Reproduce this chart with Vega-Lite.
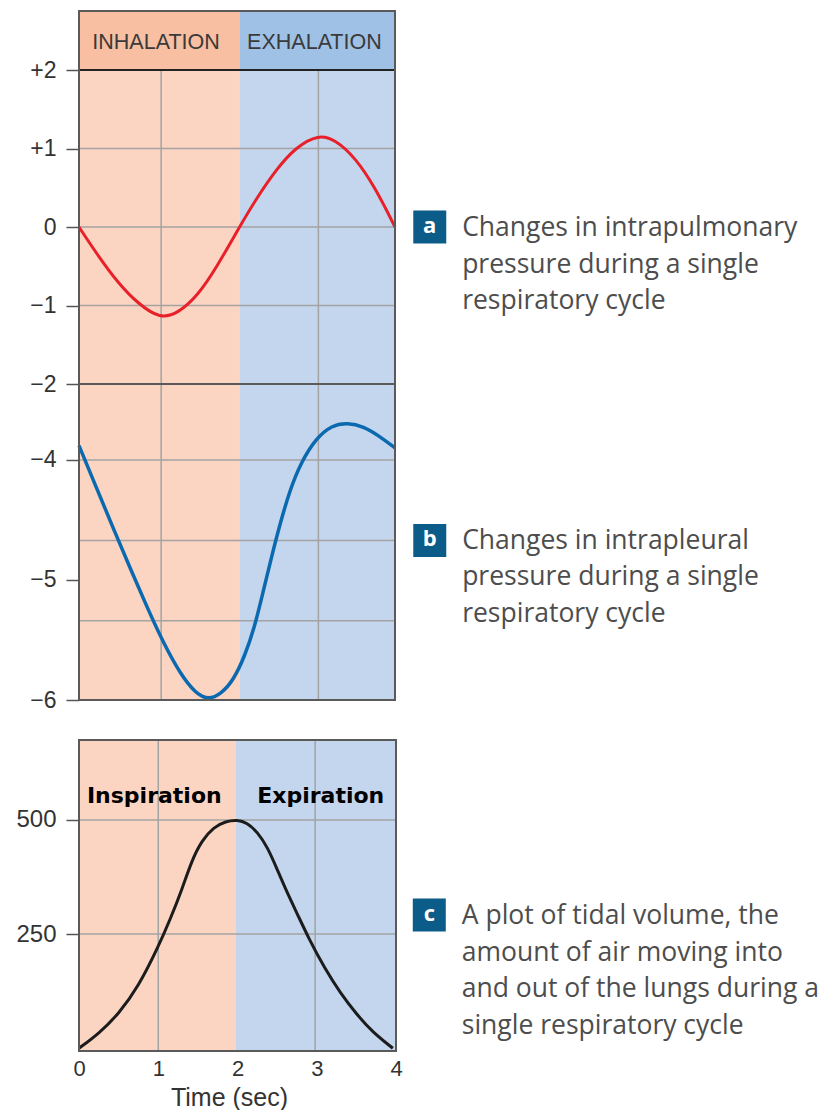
{
  "$schema": "https://vega.github.io/schema/vega-lite/v6.json",
  "padding": {"left": 15, "top": 10, "right": 0, "bottom": 0},
  "background": "white",
  "config": {
    "view": {"stroke": null},
    "axis": {
      "domain": false, "grid": false, "tickColor": "#555", "tickWidth": 1.5, "tickSize": 13,
      "labelFont": "Liberation Sans", "labelFontSize": 23, "labelColor": "#333", "labelPadding": 10,
      "titleFont": "Liberation Sans", "titleColor": "#333", "titleFontWeight": "normal"
    }
  },
  "spacing": 0,
  "bounds": "flush",
  "vconcat": [
    {
      "width": 316,
      "height": 373,
      "encoding": {
        "x": {"field": "t", "type": "quantitative", "scale": {"domain": [0, 4], "nice": false, "zero": false}, "axis": null},
        "y": {"field": "v", "type": "quantitative", "scale": {"domain": [-2, 2.752], "nice": false, "zero": false},
              "axis": {"values": [-2, -1, 0, 1, 2], "title": null, "labelFont": "Liberation Sans", "labelFontSize": 23, "labelColor": "#333",
                       "labelExpr": "datum.value > 0 ? '+' + datum.value : (datum.value < 0 ? '\u2212' + abs(datum.value) : '0')"}}
      },
      "layer": [
        {
          "data": {"values": [
            {"t": 0, "t2": 2.03, "v": -2, "v2": 2, "part": "in"},
            {"t": 2.03, "t2": 4, "v": -2, "v2": 2, "part": "ex"},
            {"t": 0, "t2": 2.03, "v": 2, "v2": 2.752, "part": "inH"},
            {"t": 2.03, "t2": 4, "v": 2, "v2": 2.752, "part": "exH"}
          ]},
          "mark": {"type": "rect"},
          "encoding": {
            "x2": {"field": "t2"}, "y2": {"field": "v2"},
            "color": {"field": "part", "type": "nominal", "legend": null,
              "scale": {"domain": ["in", "ex", "inH", "exH"], "range": ["#fbd5c2", "#c3d6ee", "#f9bfa2", "#9fc1e6"]}}
          }
        },
        {
          "data": {"values": [
            {"t": 1.04, "t2": 1.04, "v": -2, "v2": 2},
            {"t": 3.03, "t2": 3.03, "v": -2, "v2": 2},
            {"t": 0, "t2": 4, "v": 1, "v2": 1},
            {"t": 0, "t2": 4, "v": 0, "v2": 0},
            {"t": 0, "t2": 4, "v": -1, "v2": -1}
          ]},
          "mark": {"type": "rule", "color": "#a3a3a3", "strokeWidth": 1.5},
          "encoding": {"x2": {"field": "t2"}, "y2": {"field": "v2"}}
        },
        {
          "data": {"values": [
            {"t": 0, "t2": 4, "v": 2, "v2": 2},
            {"t": 0, "t2": 4, "v": -2, "v2": -2}
          ]},
          "mark": {"type": "rule", "color": "#222", "strokeWidth": 2},
          "encoding": {"x2": {"field": "t2"}, "y2": {"field": "v2"}}
        },
        {
          "data": {"values": [
            {"t": 0.975, "v": 2.27, "label": "INHALATION"},
            {"t": 2.98, "v": 2.27, "label": "EXHALATION"}
          ]},
          "mark": {"type": "text", "font": "Liberation Sans", "fontSize": 21.5, "color": "#3a3a3a", "baseline": "alphabetic", "align": "center"},
          "encoding": {"text": {"field": "label"}}
        },
        {
          "data": {"values": [
            {"t": 0, "v": 0}, {"t": 0.25, "v": -0.38}, {"t": 0.5, "v": -0.72}, {"t": 0.75, "v": -0.98},
            {"t": 1.03, "v": -1.17}, {"t": 1.25, "v": -1.1}, {"t": 1.5, "v": -0.88}, {"t": 1.75, "v": -0.5},
            {"t": 2.03, "v": 0}, {"t": 2.25, "v": 0.37}, {"t": 2.5, "v": 0.74}, {"t": 2.75, "v": 1.02},
            {"t": 3.03, "v": 1.18}, {"t": 3.25, "v": 1.11}, {"t": 3.5, "v": 0.88}, {"t": 3.75, "v": 0.5}, {"t": 4, "v": 0}
          ]},
          "mark": {"type": "line", "color": "#e8202a", "strokeWidth": 3, "interpolate": "basis"},
          "encoding": {}
        },
        {
          "data": {"values": [{"t": 0, "t2": 4, "v": -2, "v2": 2.752}]},
          "mark": {"type": "rect", "filled": false, "stroke": "#5a5a5a", "strokeWidth": 2},
          "encoding": {"x2": {"field": "t2"}, "y2": {"field": "v2"}}
        },
        {
          "data": {"values": [{"t": 4.44, "v": 0, "label": "a"}]},
          "layer": [
            {"mark": {"type": "point", "shape": "square", "size": 1089, "filled": true, "color": "#0b5c88", "opacity": 1}, "encoding": {}},
            {"mark": {"type": "text", "font": "Open Sans", "fontWeight": "bold", "fontSize": 22, "color": "white", "baseline": "middle", "align": "center", "dy": -1}, "encoding": {"text": {"field": "label"}}}
          ]
        },
        {
          "data": {"values": [{"t": 4.85, "v": -0.115, "label": "Changes in intrapulmonary\npressure during a single\nrespiratory cycle"}]},
          "mark": {"type": "text", "font": "Open Sans", "fontSize": 26.5, "color": "#4d4d4d", "align": "left", "baseline": "alphabetic", "lineBreak": "\n", "lineHeight": 36.5},
          "encoding": {"text": {"field": "label"}}
        }
      ]
    },
    {
      "width": 316,
      "height": 316,
      "encoding": {
        "x": {"field": "t", "type": "quantitative", "scale": {"domain": [0, 4], "nice": false, "zero": false}, "axis": null},
        "y": {"field": "v", "type": "quantitative", "scale": {"domain": [-6, -3.367], "nice": false, "zero": false},
              "axis": {"values": [-4, -5, -6], "title": null, "labelFont": "Liberation Sans", "labelFontSize": 23, "labelColor": "#333",
                       "labelExpr": "'\u2212' + abs(datum.value)"}}
      },
      "layer": [
        {
          "data": {"values": [
            {"t": 0, "t2": 2.03, "v": -6, "v2": -3.367, "part": "in"},
            {"t": 2.03, "t2": 4, "v": -6, "v2": -3.367, "part": "ex"}
          ]},
          "mark": {"type": "rect"},
          "encoding": {
            "x2": {"field": "t2"}, "y2": {"field": "v2"},
            "color": {"field": "part", "type": "nominal", "legend": null,
              "scale": {"domain": ["in", "ex"], "range": ["#fbd5c2", "#c3d6ee"]}}
          }
        },
        {
          "data": {"values": [
            {"t": 1.04, "t2": 1.04, "v": -6, "v2": -3.367},
            {"t": 3.03, "t2": 3.03, "v": -6, "v2": -3.367},
            {"t": 0, "t2": 4, "v": -4, "v2": -4},
            {"t": 0, "t2": 4, "v": -4.67, "v2": -4.67},
            {"t": 0, "t2": 4, "v": -5.34, "v2": -5.34}
          ]},
          "mark": {"type": "rule", "color": "#a3a3a3", "strokeWidth": 1.5},
          "encoding": {"x2": {"field": "t2"}, "y2": {"field": "v2"}}
        },
        {
          "data": {"values": [
            {"t": 0, "v": -3.88}, {"t": 0.22, "v": -4.23}, {"t": 0.44, "v": -4.58}, {"t": 0.66, "v": -4.92},
            {"t": 0.87, "v": -5.24}, {"t": 1.08, "v": -5.54}, {"t": 1.29, "v": -5.79}, {"t": 1.47, "v": -5.94},
            {"t": 1.63, "v": -6.0}, {"t": 1.8, "v": -5.95}, {"t": 1.96, "v": -5.83}, {"t": 2.1, "v": -5.63},
            {"t": 2.22, "v": -5.4}, {"t": 2.33, "v": -5.1}, {"t": 2.44, "v": -4.8}, {"t": 2.55, "v": -4.52},
            {"t": 2.67, "v": -4.25}, {"t": 2.81, "v": -4.02}, {"t": 3.0, "v": -3.82}, {"t": 3.2, "v": -3.71},
            {"t": 3.4, "v": -3.69}, {"t": 3.6, "v": -3.72}, {"t": 3.8, "v": -3.8}, {"t": 4, "v": -3.9}
          ]},
          "mark": {"type": "line", "color": "#0b69b0", "strokeWidth": 3.5, "interpolate": "basis"},
          "encoding": {}
        },
        {
          "data": {"values": [{"t": 0, "t2": 4, "v": -3.367, "v2": -3.367}]},
          "mark": {"type": "rule", "color": "#222", "strokeWidth": 2},
          "encoding": {"x2": {"field": "t2"}, "y2": {"field": "v2"}}
        },
        {
          "data": {"values": [{"t": 0, "t2": 4, "v": -6, "v2": -3.367}]},
          "mark": {"type": "rect", "filled": false, "stroke": "#5a5a5a", "strokeWidth": 2},
          "encoding": {"x2": {"field": "t2"}, "y2": {"field": "v2"}}
        },
        {
          "data": {"values": [{"t": 4.44, "v": -4.67, "label": "b"}]},
          "layer": [
            {"mark": {"type": "point", "shape": "square", "size": 1089, "filled": true, "color": "#0b5c88", "opacity": 1}, "encoding": {}},
            {"mark": {"type": "text", "font": "Open Sans", "fontWeight": "bold", "fontSize": 22, "color": "white", "baseline": "middle", "align": "center", "dy": -1}, "encoding": {"text": {"field": "label"}}}
          ]
        },
        {
          "data": {"values": [{"t": 4.85, "v": -4.74, "label": "Changes in intrapleural\npressure during a single\nrespiratory cycle"}]},
          "mark": {"type": "text", "font": "Open Sans", "fontSize": 26.5, "color": "#4d4d4d", "align": "left", "baseline": "alphabetic", "lineBreak": "\n", "lineHeight": 36.5},
          "encoding": {"text": {"field": "label"}}
        }
      ]
    },
    {
      "width": 317,
      "height": 351,
      "encoding": {
        "x": {"field": "t", "type": "quantitative", "scale": {"domain": [0, 4], "nice": false, "zero": false},
              "axis": {"values": [0, 1, 2, 3, 4], "ticks": false, "labelFont": "Liberation Sans", "labelFontSize": 22, "labelColor": "#333",
                       "labelPadding": 7, "labelFlush": false,
                       "title": "Time (sec)", "titleFontSize": 25, "titlePadding": 6, "titleX": 150}},
        "y": {"field": "v", "type": "quantitative", "scale": {"domain": [-6, 762.6], "nice": false, "zero": false},
              "axis": {"values": [250, 500], "title": null, "labelFont": "Liberation Sans", "labelFontSize": 24, "labelColor": "#333"}}
      },
      "layer": [
        {
          "data": {"values": [
            {"t": 0, "t2": 1.98, "v": -6, "v2": 675, "part": "in"},
            {"t": 1.98, "t2": 4, "v": -6, "v2": 675, "part": "ex"}
          ]},
          "mark": {"type": "rect"},
          "encoding": {
            "x2": {"field": "t2"}, "y2": {"field": "v2"},
            "color": {"field": "part", "type": "nominal", "legend": null,
              "scale": {"domain": ["in", "ex"], "range": ["#fbd5c2", "#c3d6ee"]}}
          }
        },
        {
          "data": {"values": [
            {"t": 1, "t2": 1, "v": -6, "v2": 675},
            {"t": 2.98, "t2": 2.98, "v": -6, "v2": 675},
            {"t": 0, "t2": 4, "v": 250, "v2": 250},
            {"t": 0, "t2": 4, "v": 500, "v2": 500}
          ]},
          "mark": {"type": "rule", "color": "#a3a3a3", "strokeWidth": 1.5},
          "encoding": {"x2": {"field": "t2"}, "y2": {"field": "v2"}}
        },
        {
          "data": {"values": [
            {"t": 0.95, "v": 537, "label": "Inspiration"},
            {"t": 3.05, "v": 537, "label": "Expiration"}
          ]},
          "mark": {"type": "text", "font": "DejaVu Sans", "fontWeight": "bold", "fontSize": 22, "color": "#000", "align": "center", "baseline": "alphabetic"},
          "encoding": {"text": {"field": "label"}}
        },
        {
          "data": {"values": [
            {"t": 0, "v": 0}, {"t": 0.25, "v": 32}, {"t": 0.5, "v": 75}, {"t": 0.75, "v": 135},
            {"t": 1.0, "v": 222}, {"t": 1.15, "v": 282}, {"t": 1.3, "v": 348}, {"t": 1.42, "v": 410},
            {"t": 1.55, "v": 455}, {"t": 1.7, "v": 484}, {"t": 1.85, "v": 497}, {"t": 2.0, "v": 500},
            {"t": 2.12, "v": 494}, {"t": 2.25, "v": 474}, {"t": 2.38, "v": 440}, {"t": 2.5, "v": 392},
            {"t": 2.62, "v": 343}, {"t": 2.75, "v": 296}, {"t": 2.9, "v": 240}, {"t": 3.1, "v": 175},
            {"t": 3.3, "v": 120}, {"t": 3.5, "v": 75}, {"t": 3.7, "v": 36}, {"t": 3.96, "v": 0}
          ]},
          "mark": {"type": "line", "color": "#1c1c1c", "strokeWidth": 3, "interpolate": "basis"},
          "encoding": {}
        },
        {
          "data": {"values": [{"t": 0, "t2": 4, "v": -6, "v2": 675}]},
          "mark": {"type": "rect", "filled": false, "stroke": "#5a5a5a", "strokeWidth": 2},
          "encoding": {"x2": {"field": "t2"}, "y2": {"field": "v2"}}
        },
        {
          "data": {"values": [{"t": 4.42, "v": 292, "label": "c"}]},
          "layer": [
            {"mark": {"type": "point", "shape": "square", "size": 1089, "filled": true, "color": "#0b5c88", "opacity": 1}, "encoding": {}},
            {"mark": {"type": "text", "font": "Open Sans", "fontWeight": "bold", "fontSize": 22, "color": "white", "baseline": "middle", "align": "center", "dy": -1}, "encoding": {"text": {"field": "label"}}}
          ]
        },
        {
          "data": {"values": [{"t": 4.83, "v": 272, "label": "A plot of tidal volume, the\namount of air moving into\nand out of the lungs during a\nsingle respiratory cycle"}]},
          "mark": {"type": "text", "font": "Open Sans", "fontSize": 26.5, "color": "#4d4d4d", "align": "left", "baseline": "alphabetic", "lineBreak": "\n", "lineHeight": 36.5},
          "encoding": {"text": {"field": "label"}}
        }
      ]
    }
  ]
}
